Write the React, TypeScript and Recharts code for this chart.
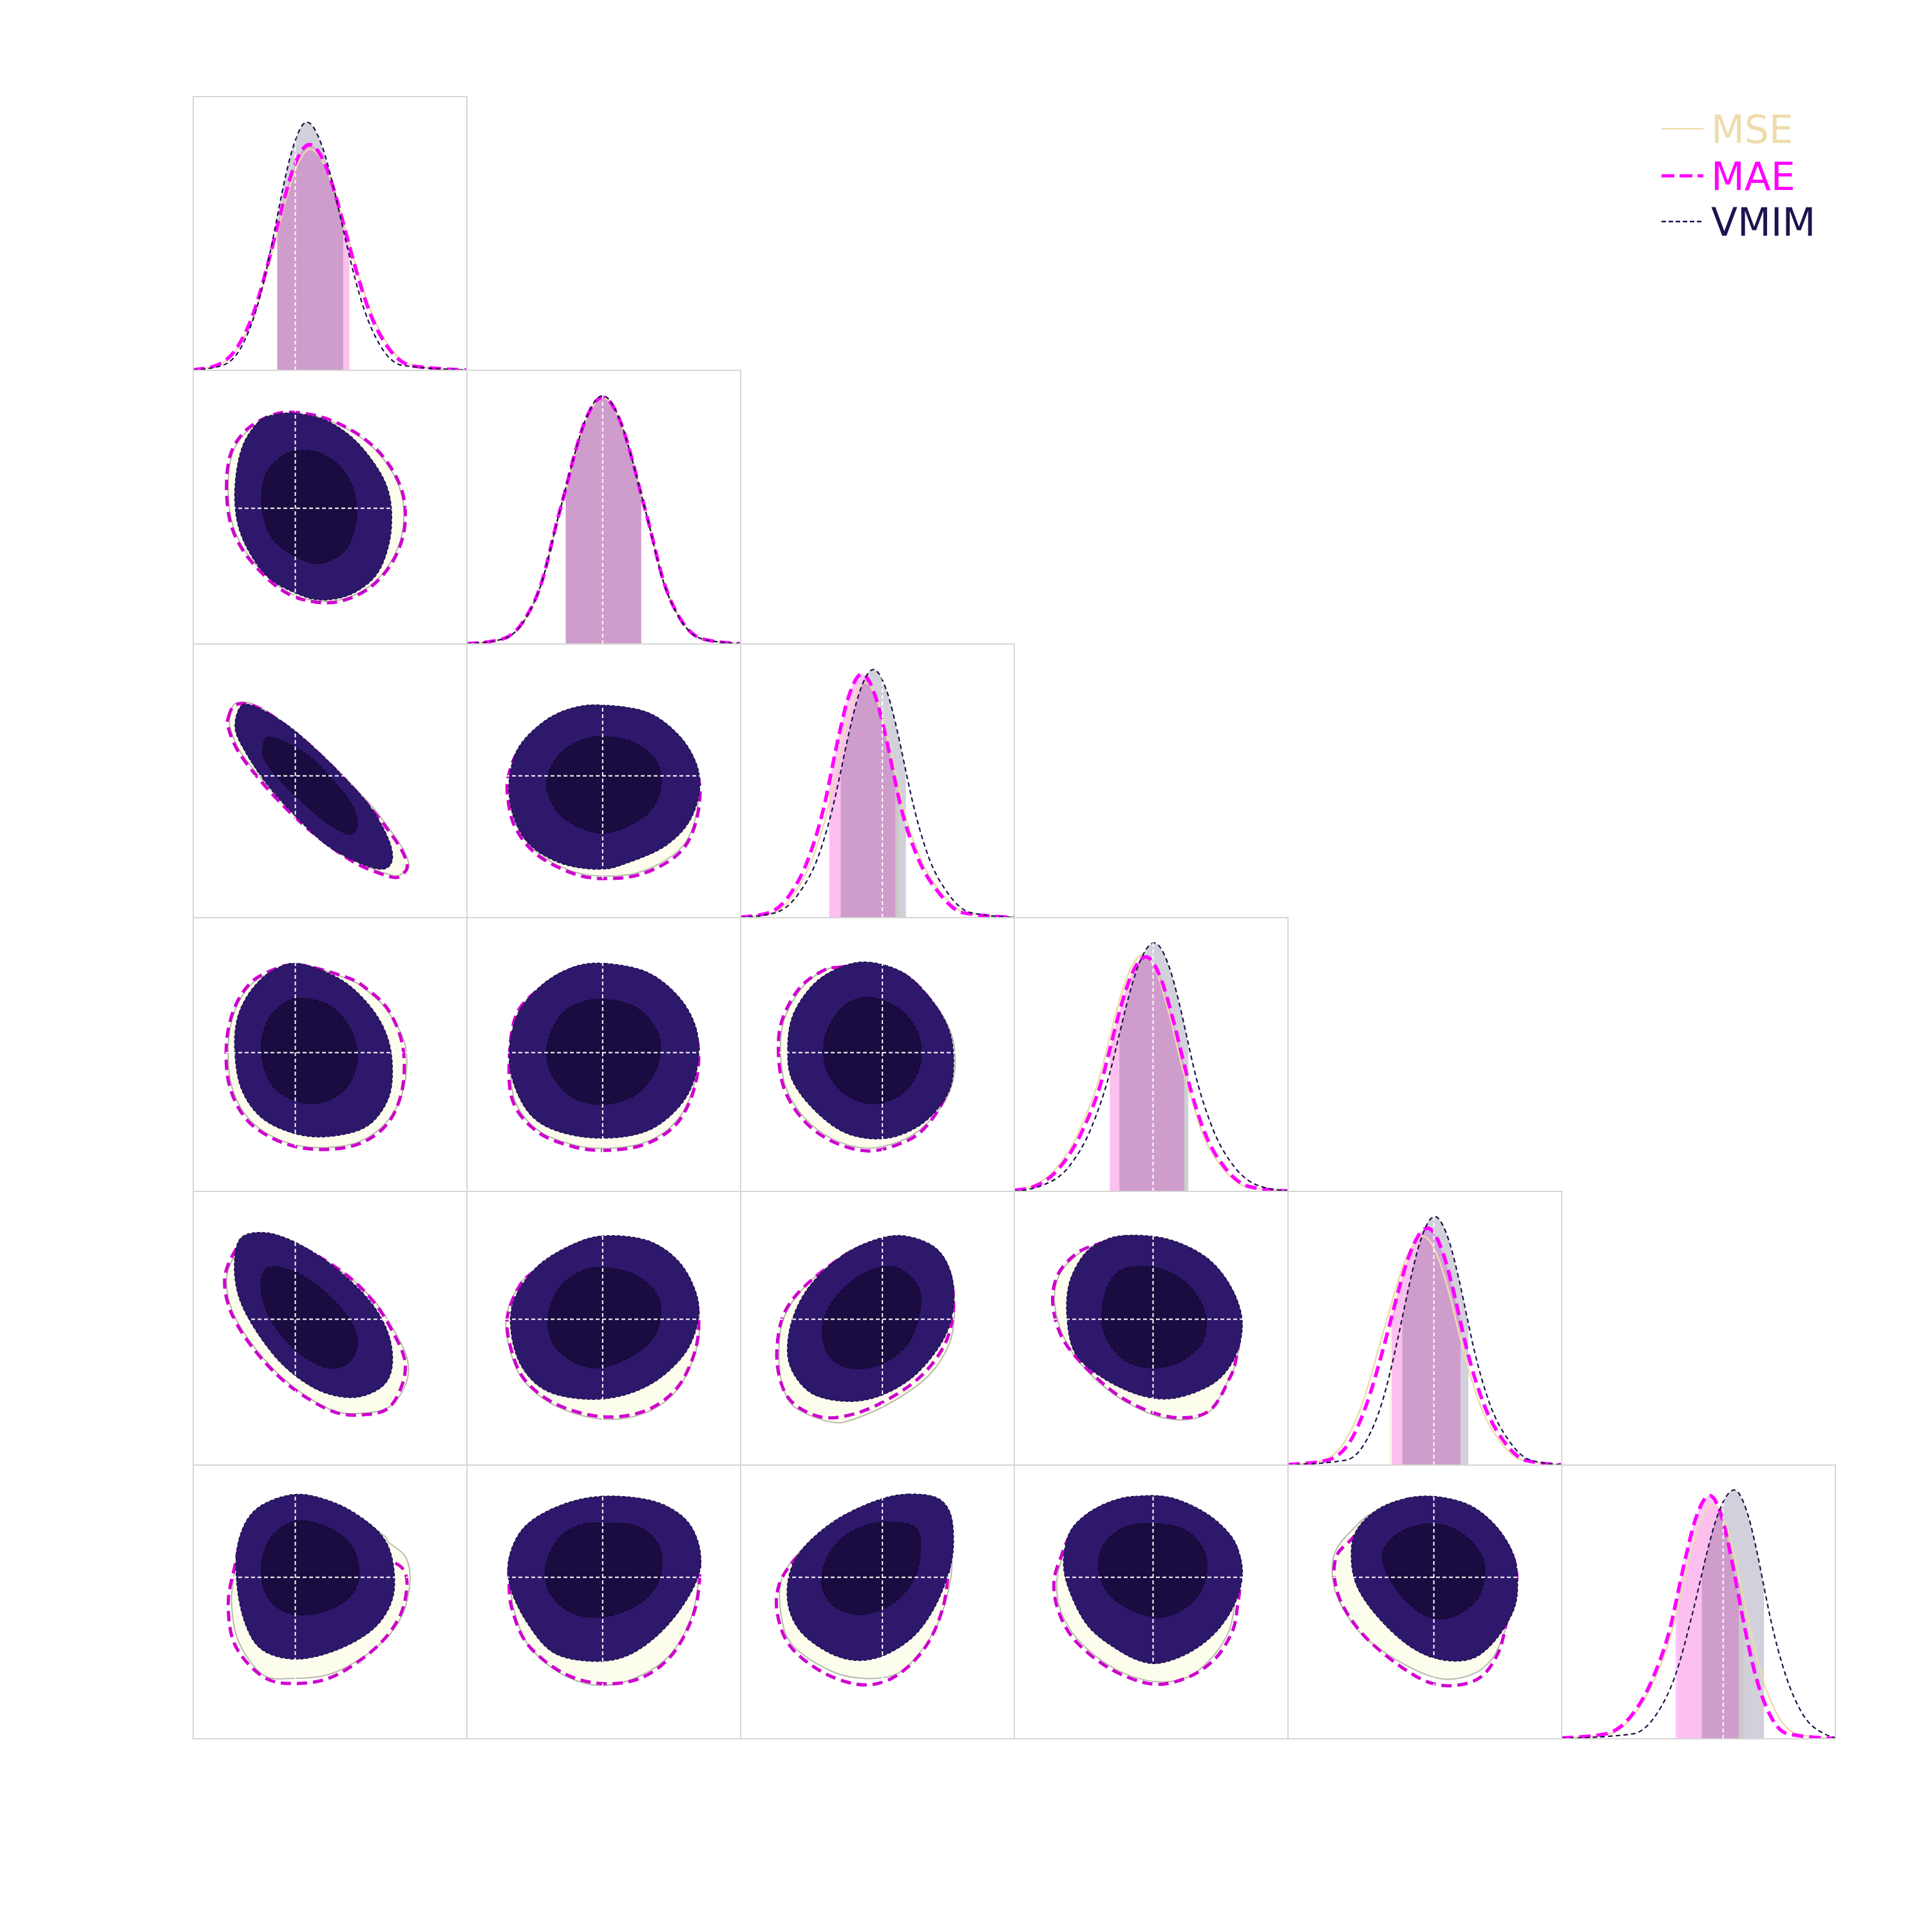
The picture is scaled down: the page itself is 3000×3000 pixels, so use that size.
import React from "react";
import { ComposedChart, Area, Line, Scatter, XAxis, YAxis, ReferenceLine } from "recharts";

type Pt = [number, number];

// corner plot of 6 parameters, axes normalised to [0, 1] inside each panel
const TRUTH = [0.373, 0.496, 0.518, 0.507, 0.533, 0.59];
const METHODS = ["MSE", "MAE", "VMIM"];

// --- 1D marginals: [position, density height] -----------------------------
const mse1d0: Pt[] = [[0, 0.002], [0.083, 0.016], [0.163, 0.081], [0.222, 0.202], [0.282, 0.404], [0.307, 0.501], [0.334, 0.606], [0.371, 0.727], [0.427, 0.808], [0.49, 0.727], [0.531, 0.606], [0.577, 0.443], [0.588, 0.404], [0.655, 0.202], [0.721, 0.081], [0.81, 0.016], [1, 0.001]];
const mae1d0: Pt[] = [[0, 0.002], [0.08, 0.0165], [0.16, 0.083], [0.219, 0.206], [0.279, 0.413], [0.307, 0.524], [0.331, 0.619], [0.368, 0.743], [0.424, 0.825], [0.486, 0.743], [0.526, 0.619], [0.57, 0.457], [0.582, 0.413], [0.647, 0.206], [0.712, 0.083], [0.799, 0.0165], [1, 0.001]];
const vmim1d0: Pt[] = [[0, 0.001], [0.107, 0.018], [0.179, 0.091], [0.232, 0.227], [0.286, 0.454], [0.307, 0.56], [0.331, 0.68], [0.365, 0.816], [0.415, 0.907], [0.472, 0.816], [0.51, 0.68], [0.548, 0.515], [0.562, 0.454], [0.623, 0.227], [0.683, 0.091], [0.765, 0.018], [1, 0.001]];

const mse1d1: Pt[] = [[0, 0.001], [0.13, 0.018], [0.212, 0.09], [0.274, 0.225], [0.331, 0.45], [0.361, 0.563], [0.39, 0.675], [0.432, 0.81], [0.497, 0.9], [0.562, 0.81], [0.604, 0.675], [0.638, 0.545], [0.663, 0.45], [0.721, 0.225], [0.782, 0.09], [0.864, 0.018], [1, 0.001]];
const mae1d1: Pt[] = [[0, 0.001], [0.129, 0.018], [0.211, 0.09], [0.273, 0.225], [0.33, 0.451], [0.361, 0.566], [0.389, 0.677], [0.431, 0.812], [0.496, 0.902], [0.561, 0.812], [0.603, 0.677], [0.637, 0.545], [0.662, 0.451], [0.72, 0.225], [0.781, 0.09], [0.863, 0.018], [1, 0.001]];
const vmim1d1: Pt[] = [[0, 0.001], [0.131, 0.018], [0.213, 0.091], [0.274, 0.227], [0.331, 0.4535], [0.361, 0.569], [0.39, 0.68], [0.432, 0.816], [0.496, 0.907], [0.56, 0.816], [0.602, 0.68], [0.637, 0.546], [0.661, 0.4535], [0.718, 0.227], [0.779, 0.091], [0.861, 0.018], [1, 0.001]];

const mse1d2: Pt[] = [[0, 0.002], [0.115, 0.017], [0.195, 0.086], [0.262, 0.215], [0.3255, 0.43], [0.328, 0.442], [0.3715, 0.644], [0.4045, 0.773], [0.455, 0.859], [0.507, 0.773], [0.541, 0.644], [0.58, 0.466], [0.588, 0.43], [0.658, 0.215], [0.738, 0.086], [0.825, 0.017], [1, 0.001]];
const mae1d2: Pt[] = [[0, 0.002], [0.103, 0.018], [0.183, 0.089], [0.25, 0.2225], [0.3135, 0.445], [0.323, 0.491], [0.3595, 0.668], [0.3925, 0.801], [0.443, 0.89], [0.495, 0.801], [0.529, 0.668], [0.565, 0.497], [0.576, 0.445], [0.646, 0.2225], [0.726, 0.089], [0.813, 0.018], [1, 0.001]];
const vmim1d2: Pt[] = [[0, 0.001], [0.127, 0.018], [0.214, 0.091], [0.285, 0.227], [0.3485, 0.4535], [0.366, 0.535], [0.397, 0.68], [0.432, 0.816], [0.485, 0.907], [0.538, 0.816], [0.573, 0.68], [0.604, 0.535], [0.6215, 0.4535], [0.685, 0.227], [0.756, 0.091], [0.843, 0.018], [1, 0.001]];

const mse1d3: Pt[] = [[0, 0.004], [0.06, 0.017], [0.155, 0.0865], [0.235, 0.216], [0.316, 0.4325], [0.349, 0.564], [0.3705, 0.649], [0.41, 0.779], [0.47, 0.865], [0.528, 0.779], [0.566, 0.649], [0.6195, 0.4325], [0.625, 0.415], [0.686, 0.216], [0.76, 0.0865], [0.85, 0.017], [1, 0.001]];
const mae1d3: Pt[] = [[0, 0.004], [0.07, 0.017], [0.165, 0.086], [0.245, 0.214], [0.326, 0.4285], [0.349, 0.519], [0.3805, 0.643], [0.42, 0.771], [0.48, 0.857], [0.538, 0.771], [0.576, 0.643], [0.62, 0.467], [0.6295, 0.4285], [0.696, 0.214], [0.77, 0.086], [0.86, 0.017], [1, 0.001]];
const vmim1d3: Pt[] = [[0, 0.001], [0.091, 0.018], [0.2, 0.091], [0.279, 0.227], [0.3545, 0.454], [0.384, 0.575], [0.41, 0.681], [0.45, 0.817], [0.511, 0.908], [0.567, 0.817], [0.604, 0.681], [0.636, 0.539], [0.655, 0.454], [0.726, 0.227], [0.803, 0.091], [0.901, 0.018], [1, 0.002]];

const mse1d4: Pt[] = [[0, 0.002], [0.124, 0.0167], [0.206, 0.0836], [0.266, 0.209], [0.329, 0.418], [0.369, 0.56], [0.388, 0.627], [0.43, 0.752], [0.494, 0.836], [0.551, 0.752], [0.589, 0.627], [0.628, 0.47], [0.641, 0.418], [0.706, 0.209], [0.777, 0.0836], [0.859, 0.0167], [1, 0.001]];
const mae1d4: Pt[] = [[0, 0.002], [0.14, 0.017], [0.227, 0.0866], [0.285, 0.2165], [0.35, 0.433], [0.379, 0.543], [0.407, 0.65], [0.4476, 0.779], [0.51, 0.866], [0.565, 0.779], [0.601, 0.65], [0.631, 0.52], [0.651, 0.433], [0.718, 0.2165], [0.789, 0.0866], [0.87, 0.017], [1, 0.001]];
const vmim1d4: Pt[] = [[0, 0.001], [0.211, 0.018], [0.287, 0.091], [0.343, 0.227], [0.3995, 0.454], [0.418, 0.541], [0.448, 0.681], [0.483, 0.817], [0.536, 0.908], [0.589, 0.817], [0.624, 0.681], [0.659, 0.517], [0.6725, 0.454], [0.736, 0.227], [0.806, 0.091], [0.886, 0.018], [1, 0.001]];

const mse1d5: Pt[] = [[0, 0.003], [0.173, 0.017], [0.263, 0.086], [0.338, 0.2145], [0.412, 0.429], [0.425, 0.485], [0.462, 0.6435], [0.498, 0.772], [0.553, 0.858], [0.6035, 0.772], [0.6365, 0.6435], [0.667, 0.501], [0.6825, 0.429], [0.736, 0.2145], [0.789, 0.086], [0.863, 0.017], [1, 0.001]];
const mae1d5: Pt[] = [[0, 0.003], [0.16, 0.018], [0.258, 0.089], [0.333, 0.222], [0.4056, 0.4445], [0.416, 0.4926], [0.4537, 0.667], [0.488, 0.8], [0.541, 0.889], [0.588, 0.8], [0.6184, 0.667], [0.647, 0.518], [0.661, 0.4445], [0.711, 0.222], [0.76, 0.089], [0.827, 0.018], [1, 0.001]];
const vmim1d5: Pt[] = [[0, 0.001], [0.26, 0.018], [0.347, 0.091], [0.4135, 0.227], [0.477, 0.4545], [0.512, 0.602], [0.531, 0.682], [0.57, 0.818], [0.63, 0.909], [0.6805, 0.818], [0.7135, 0.682], [0.739, 0.556], [0.7595, 0.4545], [0.82, 0.227], [0.88, 0.091], [0.96, 0.018], [1, 0.004]];

const MSE_1D = [mse1d0, mse1d1, mse1d2, mse1d3, mse1d4, mse1d5];
const MAE_1D = [mae1d0, mae1d1, mae1d2, mae1d3, mae1d4, mae1d5];
const VMIM_1D = [vmim1d0, vmim1d1, vmim1d2, vmim1d3, vmim1d4, vmim1d5];

// 68% intervals shaded under each marginal
const MSE_BAND: Pt[] = [[0.307, 0.577], [0.361, 0.638], [0.328, 0.58], [0.349, 0.625], [0.369, 0.628], [0.425, 0.667]];
const MAE_BAND: Pt[] = [[0.307, 0.57], [0.361, 0.637], [0.323, 0.565], [0.349, 0.62], [0.379, 0.631], [0.416, 0.647]];
const VMIM_BAND: Pt[] = [[0.307, 0.548], [0.361, 0.637], [0.366, 0.604], [0.384, 0.636], [0.418, 0.659], [0.512, 0.739]];

// --- 2D contours (outer = 95%, inner = 68%), listed per panel [row, col] ----
const PAIRS: Pt[] = [[1, 0], [2, 0], [2, 1], [3, 0], [3, 1], [3, 2], [4, 0], [4, 1], [4, 2], [4, 3], [5, 0], [5, 1], [5, 2], [5, 3], [5, 4]];

const vOut10: Pt[] = [[0.369, 0.843], [0.478, 0.82], [0.573, 0.761], [0.651, 0.675], [0.706, 0.58], [0.725, 0.478], [0.714, 0.36], [0.667, 0.25], [0.573, 0.18], [0.463, 0.161], [0.369, 0.188], [0.275, 0.243], [0.204, 0.337], [0.161, 0.447], [0.153, 0.58], [0.18, 0.722], [0.243, 0.816], [0.306, 0.839]];
const vIn10: Pt[] = [[0.376, 0.706], [0.463, 0.698], [0.541, 0.643], [0.588, 0.557], [0.596, 0.455], [0.557, 0.345], [0.463, 0.294], [0.369, 0.322], [0.285, 0.392], [0.251, 0.502], [0.262, 0.612], [0.312, 0.677]];
const mae10: Pt[] = [[0.353, 0.847], [0.463, 0.831], [0.573, 0.784], [0.667, 0.714], [0.737, 0.62], [0.772, 0.518], [0.768, 0.4], [0.722, 0.29], [0.643, 0.204], [0.541, 0.157], [0.447, 0.153], [0.353, 0.18], [0.267, 0.243], [0.18, 0.345], [0.133, 0.455], [0.122, 0.596], [0.141, 0.706], [0.196, 0.784], [0.275, 0.831]];
const mse10: Pt[] = [[0.353, 0.843], [0.463, 0.827], [0.573, 0.78], [0.665, 0.71], [0.733, 0.618], [0.767, 0.518], [0.763, 0.4], [0.718, 0.293], [0.64, 0.208], [0.541, 0.162], [0.447, 0.158], [0.355, 0.185], [0.27, 0.247], [0.185, 0.347], [0.139, 0.455], [0.128, 0.596], [0.146, 0.704], [0.2, 0.78], [0.277, 0.827]];

const vOut20: Pt[] = [[0.179, 0.777], [0.255, 0.758], [0.357, 0.694], [0.459, 0.605], [0.561, 0.503], [0.65, 0.401], [0.714, 0.286], [0.727, 0.209], [0.689, 0.177], [0.6, 0.203], [0.485, 0.267], [0.37, 0.375], [0.268, 0.49], [0.191, 0.605], [0.153, 0.694]];
const vIn20: Pt[] = [[0.268, 0.656], [0.319, 0.649], [0.421, 0.592], [0.51, 0.503], [0.58, 0.413], [0.6, 0.337], [0.568, 0.305], [0.485, 0.349], [0.395, 0.426], [0.306, 0.515], [0.255, 0.592]];
const mae20: Pt[] = [[0.128, 0.73], [0.15, 0.775], [0.2, 0.78], [0.26, 0.755], [0.357, 0.688], [0.459, 0.6], [0.561, 0.498], [0.64, 0.41], [0.705, 0.33], [0.76, 0.25], [0.782, 0.19], [0.765, 0.16], [0.727, 0.148], [0.6, 0.196], [0.485, 0.273], [0.37, 0.369], [0.255, 0.49], [0.166, 0.605], [0.128, 0.694]];
const mse20: Pt[] = [[0.135, 0.74], [0.15, 0.78], [0.2, 0.786], [0.26, 0.76], [0.357, 0.69], [0.459, 0.605], [0.561, 0.505], [0.65, 0.41], [0.72, 0.32], [0.77, 0.245], [0.788, 0.19], [0.77, 0.165], [0.727, 0.155], [0.6, 0.203], [0.485, 0.28], [0.37, 0.375], [0.26, 0.495], [0.172, 0.607], [0.135, 0.694]];

const vOut21: Pt[] = [[0.492, 0.777], [0.658, 0.751], [0.773, 0.668], [0.837, 0.566], [0.85, 0.464], [0.811, 0.349], [0.722, 0.26], [0.594, 0.203], [0.492, 0.177], [0.352, 0.196], [0.237, 0.26], [0.173, 0.362], [0.154, 0.49], [0.186, 0.617], [0.276, 0.713], [0.378, 0.764]];
const vIn21: Pt[] = [[0.495, 0.662], [0.603, 0.643], [0.69, 0.575], [0.709, 0.477], [0.658, 0.378], [0.531, 0.313], [0.424, 0.324], [0.33, 0.388], [0.291, 0.49], [0.333, 0.592], [0.415, 0.647]];
const mae21: Pt[] = [[0.492, 0.77], [0.655, 0.745], [0.768, 0.664], [0.83, 0.566], [0.852, 0.449], [0.824, 0.311], [0.76, 0.222], [0.633, 0.158], [0.492, 0.143], [0.378, 0.165], [0.25, 0.235], [0.173, 0.337], [0.148, 0.452], [0.154, 0.528], [0.19, 0.612], [0.28, 0.706], [0.38, 0.757]];
const mse21: Pt[] = [[0.492, 0.772], [0.656, 0.747], [0.77, 0.665], [0.833, 0.566], [0.848, 0.45], [0.82, 0.315], [0.755, 0.23], [0.63, 0.166], [0.492, 0.152], [0.378, 0.172], [0.255, 0.24], [0.18, 0.34], [0.155, 0.452], [0.16, 0.53], [0.192, 0.613], [0.28, 0.708], [0.38, 0.76]];

const vOut30: Pt[] = [[0.383, 0.833], [0.536, 0.776], [0.638, 0.686], [0.702, 0.584], [0.727, 0.469], [0.714, 0.342], [0.638, 0.24], [0.51, 0.202], [0.383, 0.208], [0.255, 0.265], [0.179, 0.367], [0.153, 0.495], [0.159, 0.622], [0.204, 0.724], [0.281, 0.801]];
const vIn30: Pt[] = [[0.408, 0.705], [0.505, 0.675], [0.576, 0.59], [0.6, 0.482], [0.561, 0.38], [0.472, 0.325], [0.37, 0.332], [0.285, 0.393], [0.249, 0.508], [0.27, 0.62], [0.335, 0.69]];
const mae30: Pt[] = [[0.383, 0.828], [0.561, 0.782], [0.638, 0.737], [0.714, 0.661], [0.765, 0.533], [0.765, 0.38], [0.714, 0.253], [0.612, 0.176], [0.472, 0.153], [0.332, 0.176], [0.204, 0.253], [0.134, 0.38], [0.121, 0.533], [0.147, 0.661], [0.204, 0.756], [0.281, 0.805]];
const mse30: Pt[] = [[0.383, 0.83], [0.556, 0.78], [0.634, 0.735], [0.71, 0.66], [0.775, 0.533], [0.77, 0.38], [0.714, 0.262], [0.612, 0.184], [0.472, 0.16], [0.332, 0.182], [0.21, 0.258], [0.142, 0.38], [0.128, 0.533], [0.152, 0.66], [0.208, 0.752], [0.283, 0.8]];

const vOut31: Pt[] = [[0.505, 0.833], [0.658, 0.801], [0.773, 0.712], [0.837, 0.597], [0.844, 0.469], [0.8, 0.342], [0.696, 0.24], [0.569, 0.199], [0.403, 0.202], [0.263, 0.253], [0.186, 0.355], [0.154, 0.495], [0.186, 0.648], [0.276, 0.756], [0.39, 0.82]];
const vIn31: Pt[] = [[0.505, 0.702], [0.622, 0.67], [0.7, 0.575], [0.696, 0.457], [0.622, 0.357], [0.505, 0.318], [0.392, 0.34], [0.315, 0.418], [0.291, 0.52], [0.335, 0.635], [0.41, 0.688]];
const mae31: Pt[] = [[0.505, 0.825], [0.655, 0.795], [0.768, 0.708], [0.83, 0.597], [0.847, 0.482], [0.824, 0.355], [0.76, 0.24], [0.645, 0.17], [0.505, 0.15], [0.39, 0.163], [0.263, 0.214], [0.173, 0.316], [0.154, 0.457], [0.18, 0.645], [0.278, 0.75], [0.39, 0.815]];
const mse31: Pt[] = [[0.505, 0.827], [0.656, 0.797], [0.77, 0.71], [0.833, 0.597], [0.842, 0.48], [0.82, 0.355], [0.755, 0.245], [0.645, 0.177], [0.505, 0.157], [0.39, 0.17], [0.265, 0.22], [0.18, 0.32], [0.16, 0.46], [0.184, 0.646], [0.278, 0.752], [0.39, 0.817]];

const vOut32: Pt[] = [[0.472, 0.837], [0.6, 0.796], [0.702, 0.694], [0.765, 0.579], [0.778, 0.452], [0.753, 0.349], [0.663, 0.247], [0.536, 0.194], [0.395, 0.209], [0.281, 0.286], [0.191, 0.401], [0.172, 0.515], [0.191, 0.643], [0.268, 0.758], [0.37, 0.821]];
const vIn32: Pt[] = [[0.485, 0.707], [0.583, 0.665], [0.648, 0.579], [0.657, 0.464], [0.6, 0.365], [0.497, 0.32], [0.39, 0.35], [0.316, 0.439], [0.306, 0.554], [0.353, 0.652], [0.412, 0.698]];
const mae32: Pt[] = [[0.37, 0.82], [0.306, 0.809], [0.217, 0.745], [0.153, 0.63], [0.138, 0.515], [0.159, 0.375], [0.23, 0.26], [0.332, 0.184], [0.459, 0.148], [0.574, 0.171], [0.663, 0.222], [0.74, 0.33], [0.77, 0.45], [0.76, 0.575], [0.7, 0.69], [0.6, 0.79], [0.472, 0.83]];
const mse32: Pt[] = [[0.37, 0.822], [0.3, 0.806], [0.222, 0.742], [0.16, 0.63], [0.146, 0.515], [0.166, 0.378], [0.236, 0.266], [0.335, 0.192], [0.459, 0.158], [0.574, 0.18], [0.663, 0.232], [0.75, 0.335], [0.783, 0.45], [0.77, 0.575], [0.705, 0.69], [0.6, 0.79], [0.472, 0.83]];

const vOut40: Pt[] = [[0.179, 0.834], [0.281, 0.847], [0.408, 0.796], [0.536, 0.707], [0.651, 0.592], [0.714, 0.477], [0.727, 0.362], [0.689, 0.286], [0.587, 0.247], [0.459, 0.273], [0.332, 0.362], [0.23, 0.49], [0.166, 0.617], [0.151, 0.745]];
const vIn40: Pt[] = [[0.268, 0.719], [0.37, 0.707], [0.485, 0.63], [0.574, 0.528], [0.6, 0.439], [0.561, 0.369], [0.485, 0.356], [0.383, 0.413], [0.293, 0.515], [0.249, 0.63]];
const mae40: Pt[] = [[0.2, 0.83], [0.153, 0.783], [0.115, 0.681], [0.14, 0.554], [0.23, 0.413], [0.357, 0.286], [0.51, 0.196], [0.625, 0.184], [0.714, 0.209], [0.765, 0.298], [0.772, 0.388], [0.727, 0.49], [0.663, 0.592], [0.561, 0.694], [0.408, 0.79], [0.28, 0.84]];
const mse40: Pt[] = [[0.2, 0.832], [0.158, 0.78], [0.122, 0.681], [0.146, 0.556], [0.236, 0.415], [0.36, 0.29], [0.51, 0.2], [0.625, 0.19], [0.72, 0.215], [0.778, 0.3], [0.782, 0.39], [0.735, 0.49], [0.668, 0.592], [0.561, 0.694], [0.408, 0.79], [0.28, 0.84]];

const vOut41: Pt[] = [[0.492, 0.837], [0.658, 0.821], [0.773, 0.745], [0.837, 0.63], [0.844, 0.528], [0.8, 0.413], [0.696, 0.311], [0.569, 0.254], [0.429, 0.241], [0.288, 0.273], [0.199, 0.362], [0.161, 0.49], [0.173, 0.605], [0.25, 0.719], [0.365, 0.796]];
const vIn41: Pt[] = [[0.492, 0.722], [0.612, 0.697], [0.698, 0.617], [0.703, 0.515], [0.645, 0.426], [0.505, 0.358], [0.4, 0.372], [0.318, 0.439], [0.296, 0.541], [0.338, 0.649], [0.416, 0.707]];
const mae41: Pt[] = [[0.492, 0.83], [0.655, 0.815], [0.768, 0.74], [0.83, 0.63], [0.847, 0.503], [0.824, 0.388], [0.76, 0.273], [0.645, 0.196], [0.492, 0.177], [0.327, 0.222], [0.212, 0.311], [0.161, 0.426], [0.148, 0.541], [0.193, 0.656], [0.255, 0.715], [0.365, 0.79]];
const mse41: Pt[] = [[0.492, 0.832], [0.656, 0.817], [0.77, 0.742], [0.833, 0.63], [0.85, 0.5], [0.826, 0.385], [0.76, 0.265], [0.645, 0.188], [0.492, 0.168], [0.327, 0.215], [0.208, 0.308], [0.156, 0.426], [0.144, 0.541], [0.19, 0.656], [0.255, 0.717], [0.365, 0.792]];

const vOut42: Pt[] = [[0.574, 0.839], [0.702, 0.801], [0.765, 0.712], [0.778, 0.584], [0.74, 0.457], [0.638, 0.329], [0.51, 0.253], [0.383, 0.233], [0.255, 0.265], [0.179, 0.367], [0.179, 0.495], [0.23, 0.622], [0.319, 0.724], [0.434, 0.801]];
const vIn42: Pt[] = [[0.561, 0.724], [0.644, 0.661], [0.657, 0.571], [0.612, 0.444], [0.51, 0.367], [0.395, 0.355], [0.319, 0.406], [0.3, 0.508], [0.344, 0.61], [0.446, 0.699]];
const mae42: Pt[] = [[0.574, 0.83], [0.7, 0.795], [0.76, 0.71], [0.778, 0.584], [0.753, 0.457], [0.676, 0.342], [0.561, 0.253], [0.421, 0.189], [0.293, 0.176], [0.179, 0.24], [0.134, 0.367], [0.147, 0.52], [0.204, 0.622], [0.319, 0.724], [0.434, 0.795]];
const mse42: Pt[] = [[0.574, 0.832], [0.702, 0.797], [0.765, 0.71], [0.782, 0.584], [0.765, 0.45], [0.69, 0.33], [0.561, 0.235], [0.42, 0.17], [0.332, 0.157], [0.2, 0.21], [0.153, 0.291], [0.14, 0.4], [0.152, 0.52], [0.208, 0.622], [0.319, 0.726], [0.434, 0.797]];

const vOut43: Pt[] = [[0.403, 0.839], [0.556, 0.827], [0.696, 0.763], [0.786, 0.661], [0.832, 0.533], [0.811, 0.406], [0.735, 0.304], [0.594, 0.246], [0.467, 0.253], [0.327, 0.316], [0.224, 0.406], [0.193, 0.533], [0.2, 0.661], [0.25, 0.763], [0.314, 0.814]];
const vIn43: Pt[] = [[0.403, 0.718], [0.53, 0.718], [0.633, 0.661], [0.696, 0.559], [0.684, 0.444], [0.582, 0.367], [0.454, 0.361], [0.365, 0.418], [0.32, 0.52], [0.339, 0.648]];
const mae43: Pt[] = [[0.403, 0.83], [0.556, 0.82], [0.69, 0.758], [0.78, 0.66], [0.825, 0.533], [0.811, 0.393], [0.786, 0.316], [0.709, 0.196], [0.569, 0.176], [0.403, 0.24], [0.263, 0.355], [0.173, 0.469], [0.14, 0.597], [0.161, 0.699], [0.231, 0.776], [0.314, 0.81]];
const mse43: Pt[] = [[0.403, 0.832], [0.556, 0.822], [0.69, 0.76], [0.782, 0.66], [0.828, 0.533], [0.815, 0.395], [0.782, 0.31], [0.705, 0.19], [0.569, 0.168], [0.403, 0.233], [0.26, 0.35], [0.18, 0.469], [0.147, 0.597], [0.166, 0.699], [0.235, 0.772], [0.314, 0.812]];

const vOut50: Pt[] = [[0.37, 0.893], [0.51, 0.865], [0.625, 0.801], [0.702, 0.724], [0.733, 0.622], [0.727, 0.508], [0.663, 0.406], [0.536, 0.329], [0.383, 0.291], [0.255, 0.323], [0.191, 0.418], [0.159, 0.571], [0.166, 0.724], [0.23, 0.839]];
const vIn50: Pt[] = [[0.37, 0.795], [0.485, 0.776], [0.574, 0.712], [0.606, 0.61], [0.574, 0.52], [0.472, 0.463], [0.357, 0.457], [0.274, 0.514], [0.249, 0.622], [0.281, 0.731]];
const mae50: Pt[] = [[0.37, 0.885], [0.51, 0.857], [0.62, 0.795], [0.695, 0.72], [0.714, 0.661], [0.765, 0.622], [0.781, 0.559], [0.753, 0.444], [0.663, 0.329], [0.51, 0.227], [0.37, 0.202], [0.255, 0.227], [0.153, 0.342], [0.128, 0.495], [0.153, 0.635], [0.175, 0.72], [0.235, 0.83]];
const mse50: Pt[] = [[0.37, 0.888], [0.51, 0.86], [0.62, 0.797], [0.7, 0.74], [0.714, 0.718], [0.778, 0.661], [0.791, 0.559], [0.753, 0.431], [0.663, 0.329], [0.51, 0.24], [0.37, 0.221], [0.255, 0.234], [0.166, 0.355], [0.14, 0.495], [0.153, 0.622], [0.175, 0.72], [0.235, 0.832]];

const vOut51: Pt[] = [[0.492, 0.886], [0.671, 0.871], [0.786, 0.814], [0.843, 0.724], [0.85, 0.61], [0.786, 0.482], [0.684, 0.367], [0.569, 0.297], [0.441, 0.284], [0.314, 0.316], [0.224, 0.418], [0.161, 0.546], [0.154, 0.661], [0.212, 0.776], [0.339, 0.852]];
const vIn51: Pt[] = [[0.492, 0.788], [0.625, 0.776], [0.705, 0.699], [0.703, 0.584], [0.633, 0.495], [0.505, 0.446], [0.385, 0.459], [0.303, 0.533], [0.288, 0.635], [0.339, 0.737], [0.416, 0.782]];
const mae51: Pt[] = [[0.492, 0.878], [0.668, 0.864], [0.78, 0.808], [0.838, 0.72], [0.85, 0.584], [0.824, 0.444], [0.747, 0.304], [0.633, 0.221], [0.492, 0.202], [0.352, 0.24], [0.224, 0.342], [0.166, 0.469], [0.154, 0.571], [0.16, 0.66], [0.215, 0.77], [0.339, 0.845]];
const mse51: Pt[] = [[0.492, 0.88], [0.668, 0.866], [0.782, 0.81], [0.84, 0.72], [0.846, 0.584], [0.82, 0.444], [0.745, 0.31], [0.633, 0.23], [0.492, 0.195], [0.352, 0.234], [0.228, 0.338], [0.172, 0.469], [0.16, 0.571], [0.163, 0.66], [0.217, 0.772], [0.339, 0.847]];

const vOut52: Pt[] = [[0.612, 0.894], [0.714, 0.882], [0.765, 0.827], [0.778, 0.725], [0.765, 0.624], [0.714, 0.49], [0.638, 0.38], [0.536, 0.31], [0.434, 0.286], [0.332, 0.31], [0.23, 0.38], [0.179, 0.467], [0.172, 0.569], [0.204, 0.663], [0.281, 0.749], [0.383, 0.82], [0.51, 0.875]];
const vIn52: Pt[] = [[0.548, 0.792], [0.638, 0.773], [0.657, 0.702], [0.638, 0.592], [0.561, 0.498], [0.446, 0.453], [0.344, 0.482], [0.296, 0.561], [0.313, 0.655], [0.37, 0.733], [0.459, 0.78]];
const mae52: Pt[] = [[0.612, 0.885], [0.71, 0.875], [0.758, 0.82], [0.765, 0.686], [0.759, 0.608], [0.74, 0.482], [0.689, 0.357], [0.612, 0.263], [0.523, 0.208], [0.421, 0.2], [0.293, 0.247], [0.179, 0.341], [0.134, 0.459], [0.14, 0.561], [0.191, 0.647], [0.255, 0.702], [0.383, 0.812], [0.51, 0.867]];
const mse52: Pt[] = [[0.612, 0.887], [0.71, 0.877], [0.76, 0.822], [0.772, 0.671], [0.765, 0.569], [0.727, 0.435], [0.663, 0.325], [0.574, 0.239], [0.459, 0.22], [0.332, 0.247], [0.191, 0.341], [0.147, 0.459], [0.153, 0.592], [0.242, 0.71], [0.383, 0.815], [0.51, 0.87]];

const vOut53: Pt[] = [[0.441, 0.886], [0.569, 0.882], [0.696, 0.827], [0.786, 0.749], [0.824, 0.671], [0.832, 0.584], [0.8, 0.482], [0.735, 0.388], [0.645, 0.318], [0.543, 0.278], [0.467, 0.282], [0.378, 0.325], [0.276, 0.404], [0.212, 0.514], [0.18, 0.631], [0.2, 0.749], [0.263, 0.82], [0.352, 0.867]];
const vIn53: Pt[] = [[0.505, 0.787], [0.62, 0.765], [0.69, 0.694], [0.702, 0.6], [0.658, 0.506], [0.556, 0.447], [0.454, 0.459], [0.352, 0.522], [0.308, 0.616], [0.327, 0.71], [0.403, 0.773]];
const mae53: Pt[] = [[0.441, 0.878], [0.569, 0.874], [0.69, 0.82], [0.78, 0.742], [0.82, 0.67], [0.824, 0.561], [0.816, 0.49], [0.798, 0.396], [0.735, 0.294], [0.633, 0.224], [0.505, 0.2], [0.352, 0.255], [0.224, 0.357], [0.161, 0.467], [0.145, 0.576], [0.173, 0.671], [0.205, 0.745], [0.263, 0.813], [0.352, 0.86]];
const mse53: Pt[] = [[0.441, 0.88], [0.569, 0.876], [0.69, 0.822], [0.782, 0.744], [0.815, 0.67], [0.815, 0.561], [0.805, 0.49], [0.785, 0.396], [0.725, 0.3], [0.633, 0.225], [0.505, 0.21], [0.36, 0.26], [0.235, 0.36], [0.17, 0.467], [0.155, 0.576], [0.178, 0.671], [0.207, 0.745], [0.263, 0.815], [0.352, 0.862]];

const vOut54: Pt[] = [[0.439, 0.88], [0.549, 0.884], [0.667, 0.852], [0.761, 0.776], [0.824, 0.673], [0.839, 0.571], [0.824, 0.469], [0.753, 0.355], [0.667, 0.291], [0.549, 0.291], [0.439, 0.342], [0.329, 0.444], [0.251, 0.559], [0.231, 0.673], [0.251, 0.763], [0.329, 0.839]];
const vIn54: Pt[] = [[0.533, 0.786], [0.627, 0.756], [0.698, 0.686], [0.72, 0.61], [0.69, 0.508], [0.596, 0.444], [0.502, 0.45], [0.416, 0.52], [0.353, 0.622], [0.353, 0.699], [0.424, 0.763]];
const mae54: Pt[] = [[0.439, 0.872], [0.549, 0.876], [0.665, 0.845], [0.758, 0.77], [0.82, 0.67], [0.835, 0.571], [0.8, 0.431], [0.769, 0.316], [0.706, 0.227], [0.612, 0.195], [0.51, 0.208], [0.392, 0.278], [0.275, 0.38], [0.196, 0.495], [0.169, 0.597], [0.18, 0.673], [0.227, 0.724], [0.33, 0.83]];
const mse54: Pt[] = [[0.439, 0.874], [0.549, 0.878], [0.665, 0.847], [0.758, 0.772], [0.82, 0.672], [0.832, 0.571], [0.808, 0.469], [0.792, 0.393], [0.745, 0.291], [0.667, 0.233], [0.549, 0.221], [0.392, 0.291], [0.259, 0.393], [0.18, 0.52], [0.161, 0.622], [0.18, 0.699], [0.235, 0.763], [0.3, 0.82]];

const MSE_2D = [mse10, mse20, mse21, mse30, mse31, mse32, mse40, mse41, mse42, mse43, mse50, mse51, mse52, mse53, mse54];
const MAE_2D = [mae10, mae20, mae21, mae30, mae31, mae32, mae40, mae41, mae42, mae43, mae50, mae51, mae52, mae53, mae54];
const VMIM_OUT = [vOut10, vOut20, vOut21, vOut30, vOut31, vOut32, vOut40, vOut41, vOut42, vOut43, vOut50, vOut51, vOut52, vOut53, vOut54];
const VMIM_IN = [vIn10, vIn20, vIn21, vIn30, vIn31, vIn32, vIn40, vIn41, vIn42, vIn43, vIn50, vIn51, vIn52, vIn53, vIn54];

// layout
const SIZE = 425;
const LEFT = 300;
const TOP = 150;
const MARGIN = { top: 0, right: 0, bottom: 0, left: 0 };

const COLORS = { mse: "#eedcac", mae: "#ff00ff", vmim: "#1c1246" };
const CROSS = { stroke: "#ffffff", strokeWidth: 2, strokeDasharray: "6 4", fill: "none" };

const toXY = (pts: Pt[]) => pts.map(([x, y]) => ({ x, y }));

// closed catmull-rom curve so that contours pass through the read points
const smoothClosed = (context: any) => {
  let pts: number[][] = [];
  return {
    areaStart() {},
    areaEnd() {},
    lineStart() {
      pts = [];
    },
    point(x: number, y: number) {
      pts.push([+x, +y]);
    },
    lineEnd() {
      const n = pts.length;
      if (n < 3) return;
      context.moveTo(pts[0][0], pts[0][1]);
      for (let i = 0; i < n; i += 1) {
        const p0 = pts[(i - 1 + n) % n];
        const p1 = pts[i];
        const p2 = pts[(i + 1) % n];
        const p3 = pts[(i + 2) % n];
        context.bezierCurveTo(
          p1[0] + (p2[0] - p0[0]) / 6,
          p1[1] + (p2[1] - p0[1]) / 6,
          p2[0] - (p3[0] - p1[0]) / 6,
          p2[1] - (p3[1] - p1[1]) / 6,
          p2[0],
          p2[1]
        );
      }
      context.closePath();
    },
  };
};

const noDot = () => <g />;

function DiagPanel({ i }: { i: number }) {
  const series = [
    { key: "mse", pts: MSE_1D[i], band: MSE_BAND[i], fill: COLORS.mse, fo: 0.25, stroke: COLORS.mse, width: 2.5, dash: undefined },
    { key: "mae", pts: MAE_1D[i], band: MAE_BAND[i], fill: COLORS.mae, fo: 0.22, stroke: COLORS.mae, width: 5.5, dash: "18 9" },
    { key: "vmim", pts: VMIM_1D[i], band: VMIM_BAND[i], fill: COLORS.vmim, fo: 0.2, stroke: COLORS.vmim, width: 2.2, dash: "7 5" },
  ];
  return (
    <ComposedChart width={SIZE} height={SIZE} margin={MARGIN}>
      <XAxis hide type="number" dataKey="x" domain={[0, 1]} allowDataOverflow />
      <YAxis hide type="number" dataKey="y" domain={[0, 1]} allowDataOverflow />
      {series.map((s) => (
        <Area
          key={`band-${s.key}`}
          data={toXY(s.pts.filter(([u]) => u >= s.band[0] - 1e-9 && u <= s.band[1] + 1e-9))}
          dataKey="y"
          type="monotone"
          baseValue={0}
          stroke="none"
          fill={s.fill}
          fillOpacity={s.fo}
          isAnimationActive={false}
        />
      ))}
      {series.map((s) => (
        <Line
          key={`line-${s.key}`}
          data={toXY(s.pts)}
          dataKey="y"
          type="monotone"
          stroke={s.stroke}
          strokeWidth={s.width}
          strokeDasharray={s.dash}
          dot={false}
          activeDot={false}
          isAnimationActive={false}
        />
      ))}
      <ReferenceLine x={TRUTH[i]} stroke="#ffffff" strokeWidth={2} strokeDasharray="6 4" />
    </ComposedChart>
  );
}

function ContourPanel({ k }: { k: number }) {
  const [row, col] = PAIRS[k];
  const tx = TRUTH[col];
  const ty = TRUTH[row];
  return (
    <ComposedChart width={SIZE} height={SIZE} margin={MARGIN}>
      <XAxis hide type="number" dataKey="x" domain={[0, 1]} allowDataOverflow />
      <YAxis hide type="number" dataKey="y" domain={[0, 1]} allowDataOverflow />
      <Scatter
        data={toXY(MSE_2D[k])}
        shape={noDot}
        lineJointType={smoothClosed}
        line={{ fill: "#fdfdee", stroke: "#b9b9ab", strokeWidth: 2 }}
        isAnimationActive={false}
      />
      <Scatter
        data={toXY(MAE_2D[k])}
        shape={noDot}
        lineJointType={smoothClosed}
        line={{ fill: "none", stroke: "#cf00cf", strokeWidth: 5, strokeDasharray: "16 9" }}
        isAnimationActive={false}
      />
      <Scatter
        data={toXY(VMIM_OUT[k])}
        shape={noDot}
        lineJointType={smoothClosed}
        line={{ fill: "#2e186c", stroke: "#1d1048", strokeWidth: 1.5, strokeDasharray: "5 3" }}
        isAnimationActive={false}
      />
      <Scatter
        data={toXY(VMIM_IN[k])}
        shape={noDot}
        lineJointType={smoothClosed}
        line={{ fill: "#1a0c40", stroke: "#120830", strokeWidth: 1.5, strokeDasharray: "5 3" }}
        isAnimationActive={false}
      />
      {/* truth crosshair, drawn as two-point series so it sits above the contours */}
      <Scatter data={[{ x: tx, y: 0 }, { x: tx, y: 1 }]} shape={noDot} lineJointType="linear" line={CROSS} isAnimationActive={false} />
      <Scatter data={[{ x: 0, y: ty }, { x: 1, y: ty }]} shape={noDot} lineJointType="linear" line={CROSS} isAnimationActive={false} />
    </ComposedChart>
  );
}

const Frame = ({ row, col }: { row: number; col: number }) => (
  <div
    style={{
      position: "absolute",
      left: LEFT + col * SIZE - 1,
      top: TOP + row * SIZE - 1,
      width: SIZE + 2,
      height: SIZE + 2,
      border: "2px solid #d6d6d6",
      boxSizing: "border-box",
      pointerEvents: "none",
    }}
  />
);

const place = (row: number, col: number): React.CSSProperties => ({
  position: "absolute",
  left: LEFT + col * SIZE,
  top: TOP + row * SIZE,
  width: SIZE,
  height: SIZE,
});

function Legend() {
  const rows = [
    { label: METHODS[0], color: COLORS.mse, width: 2.5, dash: undefined, y: 50 },
    { label: METHODS[1], color: COLORS.mae, width: 5, dash: "20 8", y: 123 },
    { label: METHODS[2], color: "#20124f", width: 2.5, dash: "7 4", y: 194 },
  ];
  return (
    <svg width={320} height={240} style={{ position: "absolute", left: 2560, top: 150 }}>
      {rows.map((r) => (
        <g key={r.label}>
          <line x1={20} x2={85} y1={r.y} y2={r.y} stroke={r.color} strokeWidth={r.width} strokeDasharray={r.dash} />
          <text x={97} y={r.y + 22} fill={r.color} fontFamily="DejaVu Sans" fontSize={60}>
            {r.label}
          </text>
        </g>
      ))}
    </svg>
  );
}

export default function App() {
  return (
    <div style={{ position: "absolute", left: 0, top: 0, width: 3000, height: 3000, background: "#ffffff" }}>
      {TRUTH.map((_, i) => (
        <div key={`d${i}`} style={place(i, i)}>
          <DiagPanel i={i} />
        </div>
      ))}
      {PAIRS.map(([r, c], k) => (
        <div key={`c${k}`} style={place(r, c)}>
          <ContourPanel k={k} />
        </div>
      ))}
      {TRUTH.map((_, i) => (
        <Frame key={`fd${i}`} row={i} col={i} />
      ))}
      {PAIRS.map(([r, c], k) => (
        <Frame key={`fc${k}`} row={r} col={c} />
      ))}
      <Legend />
    </div>
  );
}
